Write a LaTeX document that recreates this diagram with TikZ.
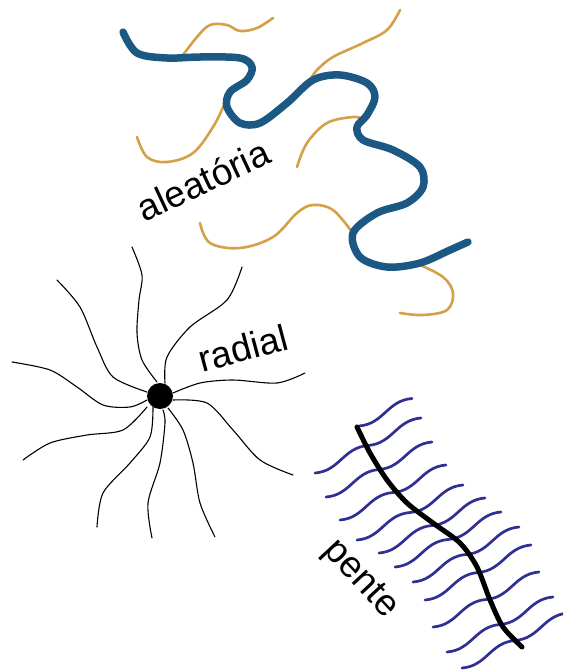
\documentclass[tikz,border=0pt]{standalone}
\usepackage{fontspec}
\setmainfont{Liberation Sans}
\definecolor{chainblue}{RGB}{28,88,132}
\definecolor{gold}{RGB}{212,160,72}
\definecolor{navy}{RGB}{48,48,148}
\tikzset{
  chain/.style={draw=chainblue,line width=7.5pt,line cap=round,line join=round},
  side/.style={draw=gold,line width=2.6pt,line cap=round},
  arm/.style={draw=black,line width=1.1pt,line cap=round},
  brush/.style={draw=navy,line width=2.7pt,line cap=round},
  spine/.style={draw=black,line width=5pt,line cap=round},
  lbl/.style={font=\fontsize{37}{37}\selectfont,inner sep=0pt}
}
\begin{document}
\begin{tikzpicture}[x=1pt,y=-1pt]
\useasboundingbox (0,0) rectangle (563,672);
\clip (0,0) rectangle (563,672);
% ---- aleatoria ----
\draw[side] plot[smooth,tension=0.6] coordinates {(273,18) (257,28) (240,31) (227,25) (210,25) (197,37) (183,55)};
\draw[side] plot[smooth,tension=0.6] coordinates {(137,137) (147,157) (167,162) (193,153) (213,127) (225,103) (229,93)};
\draw[side] plot[smooth,tension=0.6] coordinates {(400,10) (387,30) (363,43) (333,57) (317,70) (310,80)};
\draw[side] plot[smooth,tension=0.6] coordinates {(297,167) (307,143) (327,123) (353,117) (362,119)};
\draw[side] plot[smooth,tension=0.6] coordinates {(200,223) (210,243) (240,248) (273,237) (297,213) (313,205) (333,210) (352,232)};
\draw[side] plot[smooth,tension=0.6] coordinates {(418,264) (443,277) (453,293) (447,310) (423,315) (400,313)};
\draw[chain] plot[smooth,tension=0.55] coordinates {(123,32) (137,53) (167,58) (200,57) (240,58) (252,67) (247,80) (230,92) (227,107) (240,123) (260,123) (287,103) (313,80) (340,75) (367,83) (375,97) (367,115) (357,127) (363,140) (393,150) (420,167) (423,187) (407,203) (377,213) (353,233) (360,257) (387,267) (420,263) (450,250) (468,242)};
\node[lbl,rotate=25] (aleat) at (203,180) {aleatória};
% ---- radial ----
\node[circle,fill=black,minimum size=26pt,inner sep=0pt] (core) at (160,396) {};
\draw[arm] plot[smooth] coordinates {(157,382) (142,360) (137,333) (139,300) (142,275) (132,247)};
\draw[arm] plot[smooth] coordinates {(147,392) (113,377) (97,347) (80,307) (57,280)};
\draw[arm] plot[smooth] coordinates {(147,400) (130,407) (103,405) (77,387) (50,370) (12,362)};
\draw[arm] plot[smooth] coordinates {(147,407) (123,430) (87,435) (50,443) (23,460)};
\draw[arm] plot[smooth] coordinates {(153,407) (150,437) (130,463) (103,493) (97,527)};
\draw[arm] plot[smooth] coordinates {(163,410) (165,423) (160,463) (148,503) (152,538)};
\draw[arm] plot[smooth] coordinates {(168,408) (183,430) (193,463) (200,503) (215,537)};
\draw[arm] plot[smooth] coordinates {(173,400) (207,403) (233,430) (260,460) (293,475)};
\draw[arm] plot[smooth] coordinates {(173,393) (200,383) (233,380) (277,383) (305,373)};
\draw[arm] plot[smooth] coordinates {(165,383) (167,357) (190,327) (227,300) (242,267)};
\node[lbl,rotate=15] (rad) at (243,348) {radial};
% ---- pente ----
\draw[brush] (359,426) .. controls +(25,-2) and +(-25,2) .. ++(53,-27.5);
\foreach \px/\py in {315/473,326/497,340/520,357/540,379/553,395/567,413/582,425/600,433/627,447/652,462/668}{
  \draw[brush] (\px,\py) .. controls +(25,-2) and +(-25,2) .. ++(53,-27.5)
                          .. controls +(25,-2) and +(-25,2) .. ++(53,-27.5);
}
\draw[spine] plot[smooth] coordinates {(357,427) (370,453) (387,480) (407,503) (433,523) (460,543) (477,567) (490,600) (503,627) (522,647)};
\node[lbl,rotate=-47] (pent) at (360,580) {pente};
\end{tikzpicture}
\end{document}
